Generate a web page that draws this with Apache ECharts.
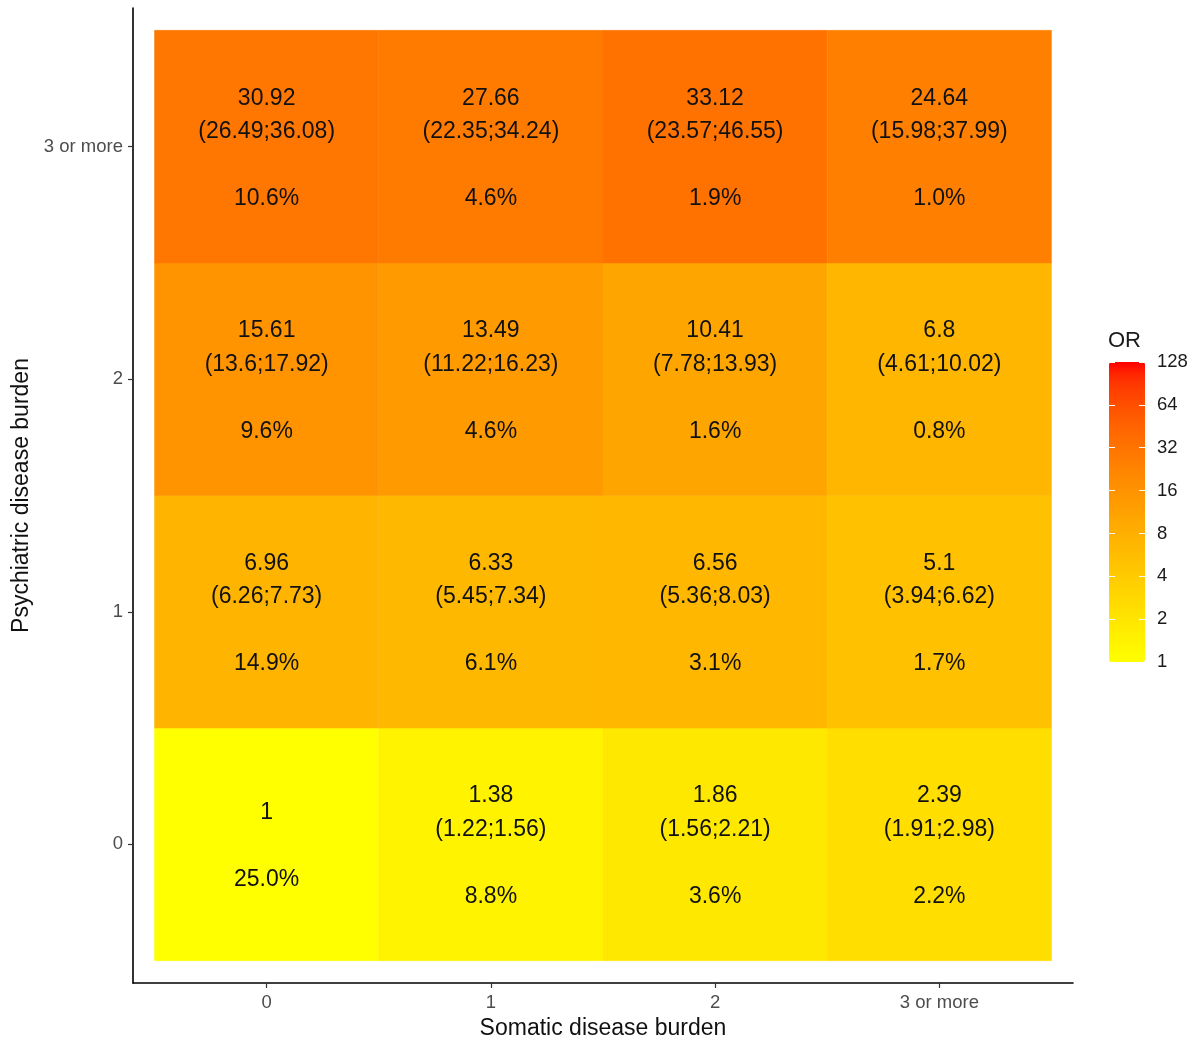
<!DOCTYPE html>
<html>
<head>
<meta charset="utf-8">
<script src="https://cdn.jsdelivr.net/npm/echarts@6/dist/echarts.min.js"></script>
<style>
  html, body { margin: 0; padding: 0; background: #fff; }
  #chart { width: 1197px; height: 1043px; }
</style>
</head>
<body>
<div id="chart"></div>
<script>
// Category labels for both burden axes
const somaticLevels = ['0', '1', '2', '3 or more'];
const psychiatricLevels = ['0', '1', '2', '3 or more'];

// Odds ratios, one array per psychiatric level (columns = somatic level)
const orPsych0 = [1, 1.38, 1.86, 2.39];
const orPsych1 = [6.96, 6.33, 6.56, 5.1];
const orPsych2 = [15.61, 13.49, 10.41, 6.8];
const orPsych3 = [30.92, 27.66, 33.12, 24.64];

// 95% confidence limits (null for the reference cell)
const ciLowPsych0 = [null, 1.22, 1.56, 1.91];
const ciHighPsych0 = [null, 1.56, 2.21, 2.98];
const ciLowPsych1 = [6.26, 5.45, 5.36, 3.94];
const ciHighPsych1 = [7.73, 7.34, 8.03, 6.62];
const ciLowPsych2 = [13.6, 11.22, 7.78, 4.61];
const ciHighPsych2 = [17.92, 16.23, 13.93, 10.02];
const ciLowPsych3 = [26.49, 22.35, 23.57, 15.98];
const ciHighPsych3 = [36.08, 34.24, 46.55, 37.99];

// Share of the population in each cell (%)
const pctPsych0 = [25.0, 8.8, 3.6, 2.2];
const pctPsych1 = [14.9, 6.1, 3.1, 1.7];
const pctPsych2 = [9.6, 4.6, 1.6, 0.8];
const pctPsych3 = [10.6, 4.6, 1.9, 1.0];

// Colour bar breaks (log2 scale)
const legendBreaks = [1, 2, 4, 8, 16, 32, 64, 128];

const orRows = [orPsych0, orPsych1, orPsych2, orPsych3];
const ciLowRows = [ciLowPsych0, ciLowPsych1, ciLowPsych2, ciLowPsych3];
const ciHighRows = [ciHighPsych0, ciHighPsych1, ciHighPsych2, ciHighPsych3];
const pctRows = [pctPsych0, pctPsych1, pctPsych2, pctPsych3];

const cells = [];
for (let p = 0; p < psychiatricLevels.length; p++) {
  for (let s = 0; s < somaticLevels.length; s++) {
    const or = orRows[p][s];
    const lo = ciLowRows[p][s];
    const hi = ciHighRows[p][s];
    const pct = pctRows[p][s].toFixed(1) + '%';
    const label = lo == null
      ? String(or) + '\n\n' + pct
      : String(or) + '\n(' + lo + ';' + hi + ')\n\n' + pct;
    cells.push([s, p, Math.log2(or), label]);
  }
}

// Yellow -> red gradient interpolated in CIE Lab
function srgbToLin(c) { c /= 255; return c <= 0.04045 ? c / 12.92 : Math.pow((c + 0.055) / 1.055, 2.4); }
function linToSrgb(c) { c = Math.max(0, Math.min(1, c)); const v = c <= 0.0031308 ? 12.92 * c : 1.055 * Math.pow(c, 1 / 2.4) - 0.055; return Math.round(v * 255); }
function rgbToLab(r, g, b) {
  const R = srgbToLin(r), G = srgbToLin(g), B = srgbToLin(b);
  let X = (0.4124 * R + 0.3576 * G + 0.1805 * B) / 0.95047;
  let Y = (0.2126 * R + 0.7152 * G + 0.0722 * B);
  let Z = (0.0193 * R + 0.1192 * G + 0.9505 * B) / 1.08883;
  const f = t => t > 0.008856 ? Math.cbrt(t) : 7.787 * t + 16 / 116;
  const fx = f(X), fy = f(Y), fz = f(Z);
  return [116 * fy - 16, 500 * (fx - fy), 200 * (fy - fz)];
}
function labToRgb(L, a, b) {
  const fy = (L + 16) / 116, fx = fy + a / 500, fz = fy - b / 200;
  const finv = t => t > 0.206893 ? t * t * t : (t - 16 / 116) / 7.787;
  const X = finv(fx) * 0.95047, Y = finv(fy), Z = finv(fz) * 1.08883;
  const R = 3.2406 * X - 1.5372 * Y - 0.4986 * Z;
  const G = -0.9689 * X + 1.8758 * Y + 0.0415 * Z;
  const B = 0.0557 * X - 0.2040 * Y + 1.0570 * Z;
  return 'rgb(' + linToSrgb(R) + ',' + linToSrgb(G) + ',' + linToSrgb(B) + ')';
}
const labLow = rgbToLab(255, 255, 0), labHigh = rgbToLab(255, 0, 0);
const gradient = [];
for (let i = 0; i <= 28; i++) {
  const t = i / 28;
  gradient.push(labToRgb(
    labLow[0] + (labHigh[0] - labLow[0]) * t,
    labLow[1] + (labHigh[1] - labLow[1]) * t,
    labLow[2] + (labHigh[2] - labLow[2]) * t));
}

const logMin = Math.log2(legendBreaks[0]);
const logMax = Math.log2(legendBreaks[legendBreaks.length - 1]);
const tickPositions = [0, 1, 2, 3];
const font = 'Arial';

const chart = echarts.init(document.getElementById('chart'));
chart.setOption({
  animation: false,
  backgroundColor: '#ffffff',
  title: {
    text: 'OR', left: 1108, top: 330,
    textStyle: { fontFamily: font, fontSize: 22, fontWeight: 'normal', color: '#1a1a1a' },
    padding: 0
  },
  grid: [
    { left: 133, right: 124, top: 8, bottom: 60, outerBoundsMode: 'none', containLabel: false },
    { left: 1109, top: 362, width: 36, height: 300, outerBoundsMode: 'none', containLabel: false }
  ],
  xAxis: [
    {
      type: 'value', gridIndex: 0, min: -0.596, max: 3.596,
      name: 'Somatic disease burden', nameLocation: 'middle', nameGap: 34,
      nameTextStyle: { fontFamily: font, fontSize: 23, color: '#111' },
      axisLine: { onZero: false, lineStyle: { color: '#000', width: 1.6 } },
      axisTick: { show: true, customValues: tickPositions, length: 5, lineStyle: { color: '#333', width: 1.2 } },
      axisLabel: {
        customValues: tickPositions, margin: 10,
        formatter: v => somaticLevels[Math.round(v)],
        fontFamily: font, fontSize: 18.5, color: '#4d4d4d'
      },
      splitLine: { show: false }
    },
    { type: 'value', gridIndex: 1, min: 0, max: 1, show: false }
  ],
  yAxis: [
    {
      type: 'value', gridIndex: 0, min: -0.596, max: 3.596,
      name: 'Psychiatric disease burden', nameLocation: 'middle', nameGap: 98, nameRotate: 90,
      nameTextStyle: { fontFamily: font, fontSize: 23, color: '#111' },
      axisLine: { show: true, onZero: false, lineStyle: { color: '#000', width: 1.6 } },
      axisTick: { show: true, customValues: tickPositions, length: 5, lineStyle: { color: '#333', width: 1.2 } },
      axisLabel: {
        customValues: tickPositions, margin: 10,
        formatter: v => psychiatricLevels[Math.round(v)],
        fontFamily: font, fontSize: 18.5, color: '#4d4d4d', padding: [2, 0, 0, 0]
      },
      splitLine: { show: false }
    },
    {
      type: 'value', gridIndex: 1, min: logMin, max: logMax, interval: 1, position: 'left', z: 10,
      axisLine: { show: false },
      axisTick: { show: true, inside: true, length: 6, lineStyle: { color: '#ffffff', width: 1 } },
      axisLabel: { show: false },
      splitLine: { show: false }
    },
    {
      type: 'value', gridIndex: 1, min: logMin, max: logMax, interval: 1, position: 'right', z: 10,
      axisLine: { show: false },
      axisTick: { show: true, inside: true, length: 6, lineStyle: { color: '#ffffff', width: 1 } },
      axisLabel: {
        margin: 12, formatter: v => String(Math.pow(2, v)),
        fontFamily: font, fontSize: 18.5, color: '#1a1a1a', padding: [2, 0, 0, 0]
      },
      splitLine: { show: false }
    }
  ],
  visualMap: {
    type: 'continuous', seriesIndex: 0, dimension: 2,
    min: logMin, max: logMax, calculable: false, realtime: false,
    orient: 'vertical', left: 1109, top: 362, padding: 0,
    itemWidth: 36, itemHeight: 300, text: null, showLabel: false,
    hoverLink: false,
    inRange: { color: gradient }
  },
  series: [{
    type: 'custom',
    xAxisIndex: 0, yAxisIndex: 0,
    data: cells,
    encode: { x: 0, y: 1 },
    renderItem: function (params, api) {
      const s = api.value(0), p = api.value(1);
      const tl = api.coord([s - 0.5, p + 0.5]);
      const br = api.coord([s + 0.5, p - 0.5]);
      const color = api.visual('color');
      return {
        type: 'group',
        children: [
          {
            type: 'rect',
            shape: { x: tl[0], y: tl[1], width: br[0] - tl[0], height: br[1] - tl[1] },
            style: { fill: color, stroke: color, lineWidth: 0.5 }
          },
          {
            type: 'text',
            style: {
              text: cells[params.dataIndex][3],
              x: (tl[0] + br[0]) / 2, y: (tl[1] + br[1]) / 2 + 2,
              align: 'center', verticalAlign: 'middle',
              fontFamily: font, fontSize: 23, lineHeight: 33.5, fill: '#111'
            }
          }
        ]
      };
    }
  }]
});
</script>
</body>
</html>
